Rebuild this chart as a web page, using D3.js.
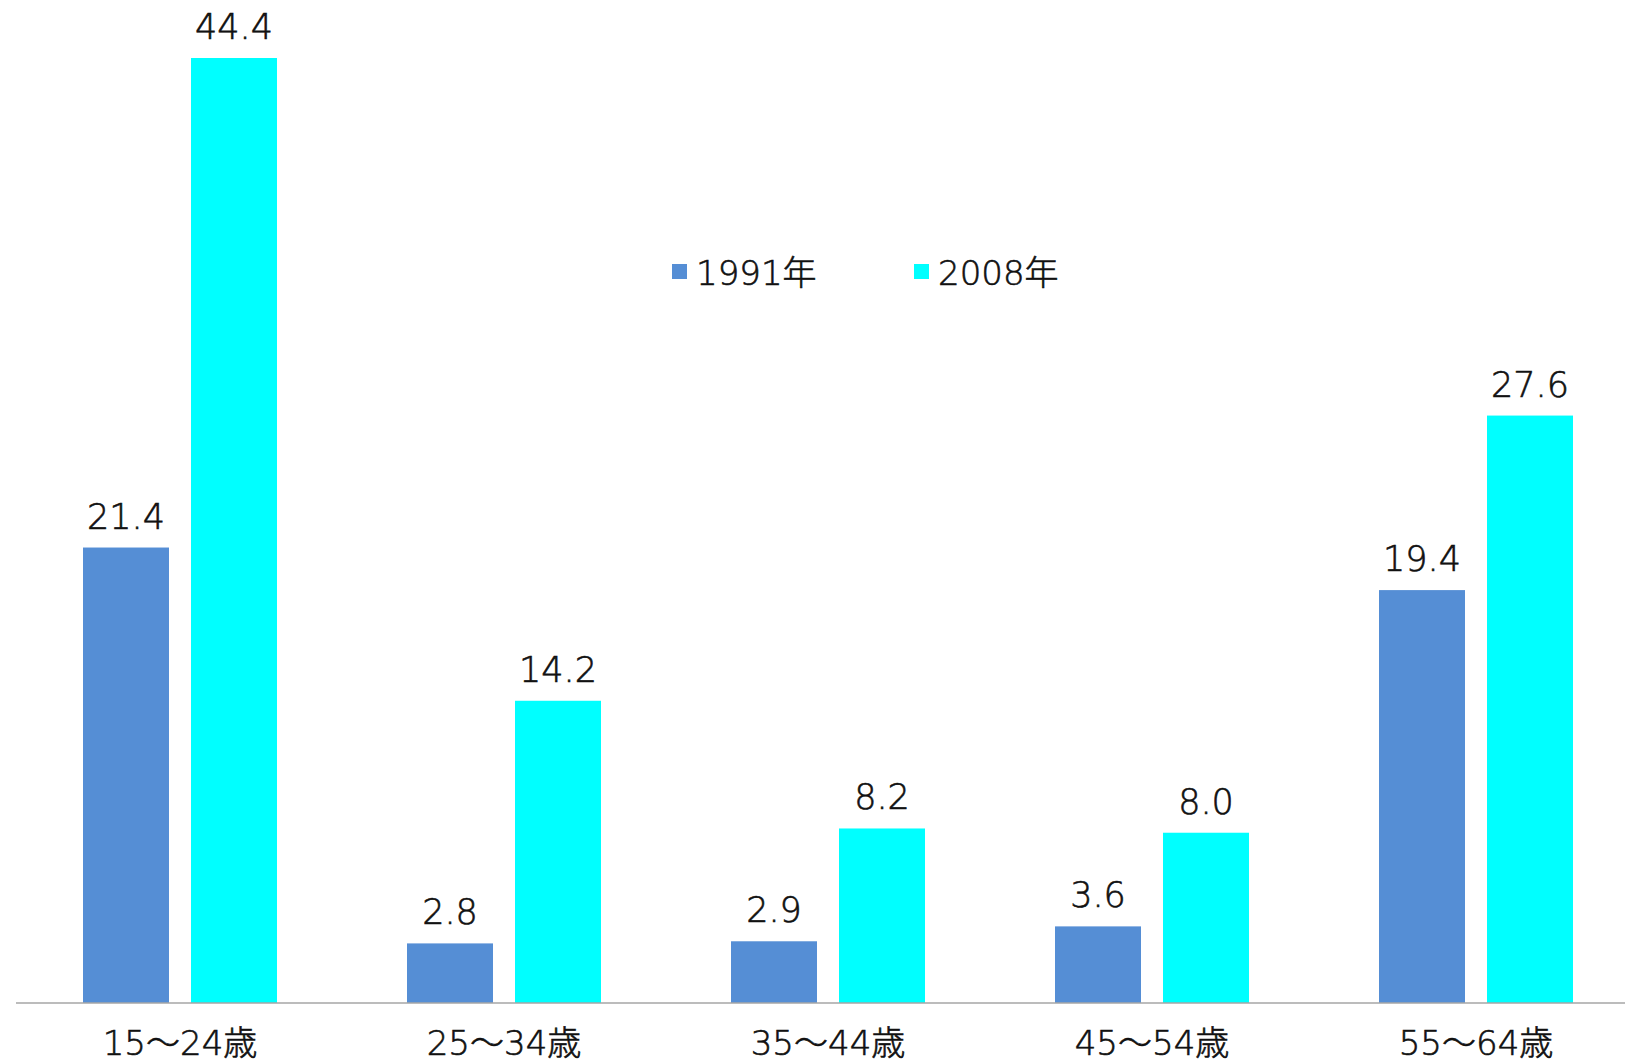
<!DOCTYPE html>
<html>
<head>
<meta charset="utf-8">
<script src="https://cdn.jsdelivr.net/npm/d3@7"></script>
<style>
  html, body { margin: 0; padding: 0; background: #fff; }
  svg { display: block; }
  text { font-family: "DejaVu Sans", "Noto Sans CJK JP", sans-serif; font-weight: 200; fill: #111; stroke: #111; stroke-width: 0.6px; }
</style>
</head>
<body>
<svg id="chart" width="1625" height="1062"></svg>
<script>
// Age groups and the two survey years
const categories = ["15～24歳", "25～34歳", "35～44歳", "45～54歳", "55～64歳"];
const seriesNames = ["1991年", "2008年"];
const values1991 = [21.4, 2.8, 2.9, 3.6, 19.4];
const values2008 = [44.4, 14.2, 8.2, 8.0, 27.6];
const colors = ["#558ED5", "#00FFFF"];

const svg = d3.select("#chart");
const baseY = 1003;

const x = d3.scaleBand().domain(categories).range([18, 1638]).paddingInner(0).paddingOuter(0);
// two bars of 86px with a 22px gap inside each group
const sub = d3.scaleBand().domain(seriesNames).range([0, 194]).paddingInner(22 / 108).paddingOuter(0);
const groupOffset = (x.bandwidth() - 194) / 2;
const y = d3.scaleLinear().domain([0, 44.4]).range([baseY, 58]);

const series = [values1991, values2008];

const groups = svg.selectAll("g.grp")
  .data(categories)
  .join("g")
  .attr("class", "grp")
  .attr("transform", d => `translate(${x(d) + groupOffset},0)`);

groups.each(function (cat, i) {
  const g = d3.select(this);
  seriesNames.forEach((s, k) => {
    const v = series[k][i];
    g.append("rect")
      .attr("x", sub(s))
      .attr("width", sub.bandwidth())
      .attr("y", y(v))
      .attr("height", baseY - y(v))
      .attr("fill", colors[k]);
    g.append("text")
      .attr("x", sub(s) + sub.bandwidth() / 2)
      .attr("y", y(v) - 19)
      .attr("text-anchor", "middle")
      .attr("font-size", 35)
      .text(v.toFixed(1));
  });
});

// baseline axis with category labels
const xAxis = d3.axisBottom(x).tickSize(0).tickPadding(0);
const axisG = svg.append("g").attr("transform", `translate(0,${baseY})`).call(xAxis);
axisG.select(".domain").attr("stroke", "#A6A6A6").attr("stroke-width", 1.5).attr("d", "M16,0H1625");
axisG.selectAll(".tick text")
  .attr("y", 52)
  .attr("dy", 0)
  .attr("font-size", 34)
  .attr("font-family", "\"DejaVu Sans\", \"Noto Sans CJK JP\", sans-serif")
  .attr("font-weight", 200)
  .attr("fill", "#111");

// legend
const legendX = [672, 914];
const legend = svg.append("g");
seriesNames.forEach((s, k) => {
  legend.append("rect")
    .attr("x", legendX[k]).attr("y", 264)
    .attr("width", 15).attr("height", 15)
    .attr("fill", colors[k]);
  legend.append("text")
    .attr("x", legendX[k] + 24).attr("y", 285)
    .attr("font-size", 34)
    .text(s);
});
</script>
</body>
</html>
